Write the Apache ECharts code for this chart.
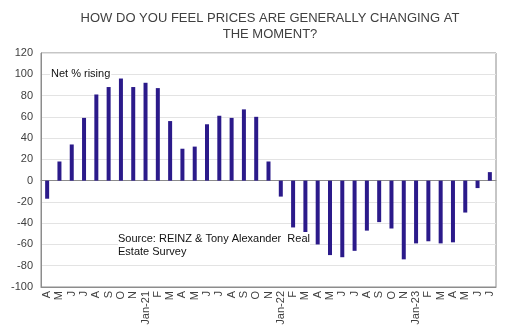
<!DOCTYPE html>
<html>
<head>
<meta charset="utf-8">
<script src="https://cdn.jsdelivr.net/npm/echarts@6/dist/echarts.min.js"></script>
<style>
html,body{margin:0;padding:0;background:#fff;}
#chart{width:507px;height:335px;}
</style>
</head>
<body>
<div id="chart"></div>
<script>
var categories = ['A','M','J','J','A','S','O','N','Jan-21','F','M','A','M','J','J','A','S','O','N',
  'Jan-22','F','M','A','M','J','J','A','S','O','N','Jan-23','F','M','A','M','J','J'];
var netRising = [-17,18,34,59,81,88,96,88,92,87,56,30,32,53,61,59,67,60,18,
  -15,-44,-51,-60,-70,-72,-66,-47,-39,-45,-74,-59,-57,-59,-58,-30,-7,8];
var yTicks = {min:-100, max:120, interval:20};
var titleLines = ['HOW DO YOU FEEL PRICES ARE GENERALLY CHANGING AT','THE MOMENT?'];
var seriesLabel = 'Net % rising';
var sourceLines = ['Source: REINZ & Tony Alexander  Real','Estate Survey'];

var font = 'Liberation Sans, Arial, sans-serif';
var chart = echarts.init(document.getElementById('chart'), null, {renderer:'canvas'});
chart.setOption({
  animation:false,
  backgroundColor:'#fff',
  grid:{left:41, right:11, top:53, bottom:48, show:true, borderColor:'#8c8c8c', borderWidth:1, containLabel:false},
  xAxis:[{
    type:'category', data:categories, position:'bottom',
    axisLine:{onZero:false, show:true, lineStyle:{color:'#8c8c8c'}},
    axisTick:{show:false},
    axisLabel:{interval:0, rotate:90, fontFamily:font, fontSize:11, color:'#404040', margin:4},
    splitLine:{show:false}
  },{
    type:'category', data:categories, position:'bottom',
    axisLine:{onZero:true, show:true, lineStyle:{color:'#8c8c8c'}},
    axisTick:{show:false}, axisLabel:{show:false}, splitLine:{show:false}
  }],
  yAxis:{
    type:'value', min:yTicks.min, max:yTicks.max, interval:yTicks.interval,
    axisLine:{show:true, lineStyle:{color:'#8c8c8c'}},
    axisTick:{show:false},
    axisLabel:{fontFamily:font, fontSize:11, color:'#404040', margin:8},
    splitLine:{show:true, lineStyle:{color:'#e3e3e3'}}
  },
  series:[{
    type:'bar', name:seriesLabel, data:netRising, barWidth:4, xAxisIndex:0,
    itemStyle:{color:'#2b1a8a'}, z:3
  }],
  graphic:[
    {type:'text', x:270, y:10, z:10, style:{text:titleLines.join('\n'), align:'center', fill:'#404040', font:'13px '+font, lineHeight:16}},
    {type:'text', x:50, y:68, z:10, style:{text:seriesLabel, fill:'#111', font:'11px '+font, backgroundColor:'#fff', padding:[0,1]}},
    {type:'text', x:118, y:232, z:10, style:{text:sourceLines.join('\n'), fill:'#111', font:'11px '+font, lineHeight:13, backgroundColor:'#fff'}}
  ]
});
</script>
</body>
</html>
